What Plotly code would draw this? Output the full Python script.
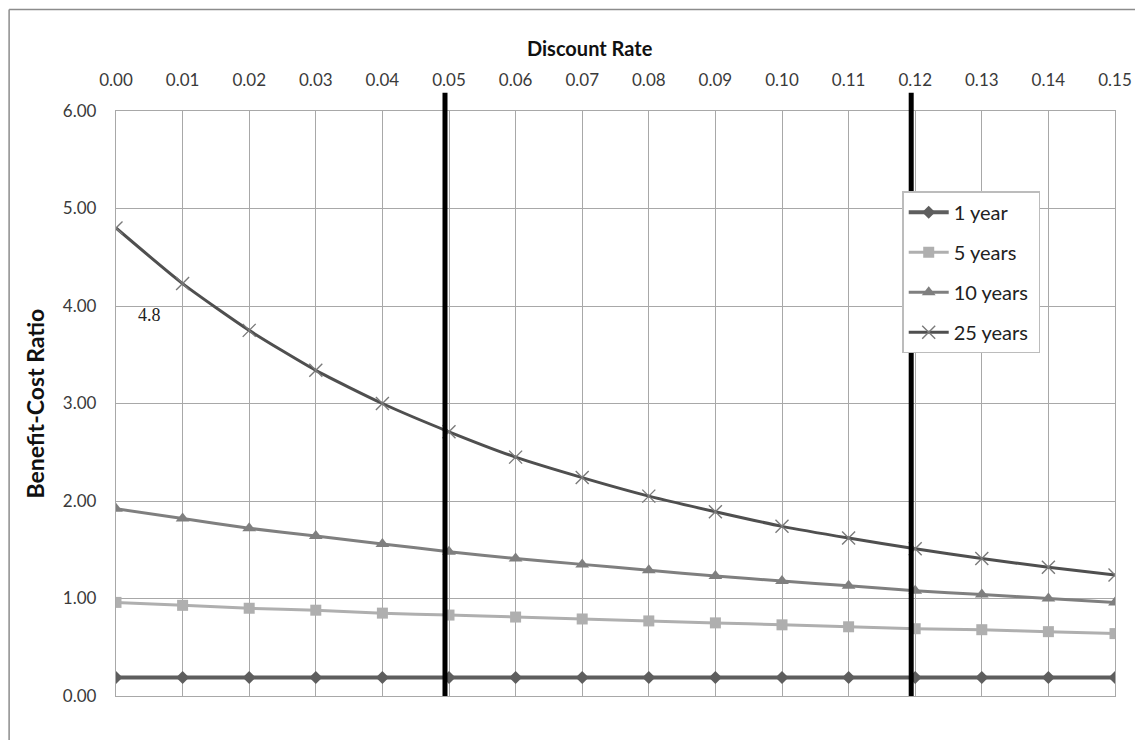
import plotly.graph_objects as go

rates = [0.00, 0.01, 0.02, 0.03, 0.04, 0.05, 0.06, 0.07, 0.08, 0.09, 0.10, 0.11, 0.12, 0.13, 0.14, 0.15]
tick_labels = ["0.00", "0.01", "0.02", "0.03", "0.04", "0.05", "0.06", "0.07",
               "0.08", "0.09", "0.10", "0.11", "0.12", "0.13", "0.14", "0.15"]
y_ticks = [0, 1, 2, 3, 4, 5, 6]
y_tick_labels = ["0.00", "1.00", "2.00", "3.00", "4.00", "5.00", "6.00"]

year1 = [0.19] * 16
year5 = [0.96, 0.93, 0.90, 0.88, 0.85, 0.83, 0.81, 0.79, 0.77, 0.75, 0.73, 0.71, 0.69, 0.68, 0.66, 0.64]
year10 = [1.92, 1.82, 1.72, 1.64, 1.56, 1.48, 1.41, 1.35, 1.29, 1.23, 1.18, 1.13, 1.08, 1.04, 1.00, 0.96]
year25 = [4.80, 4.23, 3.75, 3.34, 3.00, 2.71, 2.45, 2.24, 2.05, 1.89, 1.74, 1.62, 1.51, 1.41, 1.32, 1.24]

ref_rates = [0.05, 0.12]
label_text = "4.8"
label_pos = (0.003, 3.91)

FONT = "Lato"

fig = go.Figure()
series = [
    ("1 year", year1, "#5e5e5e", 4, "diamond", 10, "linear"),
    ("5 years", year5, "#afafaf", 3, "square", 11, "spline"),
    ("10 years", year10, "#7f7f7f", 3, "triangle-up", 12, "spline"),
    ("25 years", year25, "#4f4f4f", 3, "x-thin", 13, "spline"),
]
for name, vals, col, lw, sym, ms, shape in series:
    marker = dict(symbol=sym, size=ms, color=col)
    if sym == "x-thin":
        marker = dict(symbol=sym, size=ms, color=col, line=dict(color="#7a7a7a", width=1.4))
    fig.add_trace(go.Scatter(
        x=rates, y=vals, name=name + "\u00a0", mode="lines+markers",
        line=dict(color=col, width=lw, shape=shape, smoothing=0.6),
        marker=marker, legendgroup=name,
    ))

for r in ref_rates:
    fig.add_shape(type="line", xref="x", yref="paper", x0=r - 0.0006, x1=r - 0.0006,
                  y0=0, y1=1.031, line=dict(color="black", width=5), layer="above")

# outer chart frame (left and top edges)
fig.add_shape(type="line", xref="paper", yref="paper", x0=-0.107, x1=1.1, y0=1.1735, y1=1.1735,
              line=dict(color="#8c8c8c", width=1.5))
fig.add_shape(type="line", xref="paper", yref="paper", x0=-0.107, x1=-0.107, y0=-0.1, y1=1.1735,
              line=dict(color="#8c8c8c", width=1.5))

fig.add_annotation(x=label_pos[0], y=label_pos[1], text=label_text, showarrow=False,
                   xanchor="left", yanchor="middle",
                   font=dict(family="Liberation Serif", size=18, color="#222222"))

fig.add_annotation(x=0.4745, y=1.108, xref="paper", yref="paper", text="<b>Discount Rate</b>",
                   showarrow=False, xanchor="center", yanchor="middle",
                   font=dict(family=FONT, size=20, color="#111111"))

fig.add_annotation(x=-0.082, y=0.5, xref="paper", yref="paper", text="<b>Benefit-Cost Ratio</b>",
                   showarrow=False, xanchor="center", yanchor="middle", textangle=-90,
                   font=dict(family=FONT, size=23, color="#111111"))

# the page body has an 8px default margin, so the figure is shrunk and shifted to compensate
fig.update_layout(
    width=1135, height=732,
    margin=dict(l=108, r=28, t=103, b=44),
    paper_bgcolor="white", plot_bgcolor="white",
    font=dict(family=FONT, color="#333333"),
    showlegend=True,
    legend=dict(x=0.787, y=0.863, xanchor="left", yanchor="top",
                bgcolor="white", bordercolor="#bcbcbc", borderwidth=1.5,
                font=dict(family=FONT, size=20, color="#222222"),
                traceorder="grouped", tracegroupgap=11, itemwidth=40),
    xaxis=dict(
        range=[0, 0.15], side="top", tickmode="array", tickvals=rates, ticktext=tick_labels,
        showgrid=True, gridcolor="#a8a8a8", gridwidth=1.3, zeroline=False,
        showline=True, linecolor="#a8a8a8", linewidth=1.3, mirror=True,
        ticks="", tickfont=dict(family=FONT, size=17, color="#3a3a3a"),
        ticklabelstandoff=17, automargin=False,
    ),
    yaxis=dict(
        range=[0, 6], tickmode="array", tickvals=y_ticks, ticktext=y_tick_labels,
        showgrid=True, gridcolor="#a8a8a8", gridwidth=1.3, zeroline=False,
        showline=True, linecolor="#a8a8a8", linewidth=1.3, mirror=True,
        ticks="", tickfont=dict(family=FONT, size=17, color="#3a3a3a"),
        ticklabelstandoff=15, automargin=False,
    ),
)

fig.write_html("out.html")
